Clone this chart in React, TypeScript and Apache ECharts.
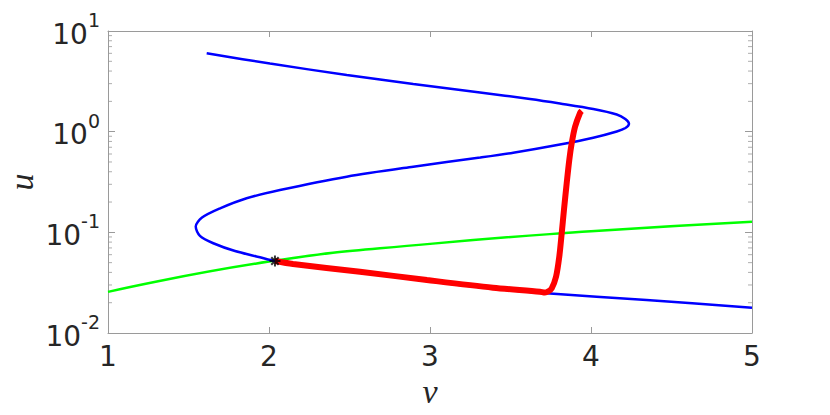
import React, { useEffect, useRef } from "react";
import * as echarts from "echarts";

// x axis (v) tick values
const xTickValues = [1, 2, 3, 4, 5];
// y axis (u) major tick exponents
const yExponents = [-2, -1, 0, 1];
const yMinorMultipliers = [2, 3, 4, 5, 6, 7, 8, 9];

// Blue S-shaped curve (v, u)
const blueV = [1.613, 2.006, 2.483, 2.896, 3.311, 3.621, 3.807, 4.014, 4.16, 4.213, 4.236, 4.214, 4.16, 4.014, 3.807, 3.517, 3.311, 2.896, 2.483, 2.068, 1.861, 1.696, 1.584, 1.545, 1.571, 1.654, 1.789, 1.944, 2.037, 2.565, 2.981, 3.391, 3.724, 4.345, 5.0];
const blueU = [6.0, 4.75, 3.654, 2.975, 2.45, 2.111, 1.904, 1.679, 1.481, 1.336, 1.197, 1.087, 1.004, 0.871, 0.746, 0.618, 0.553, 0.449, 0.357, 0.263, 0.218, 0.173, 0.14, 0.114, 0.0923, 0.0779, 0.0652, 0.0565, 0.0519, 0.0399, 0.0328, 0.0277, 0.0248, 0.0213, 0.0178];

// Green curve
const greenV = [1, 2, 3, 4, 5];
const greenU = [0.0256, 0.0512, 0.0768, 0.1023, 0.1275];

// Red trajectory
const redV = [2.037, 2.149, 2.565, 2.981, 3.391, 3.683, 3.714, 3.733, 3.756, 3.783, 3.803, 3.818, 3.832, 3.849, 3.865, 3.88, 3.901, 3.932, 3.942];
const redU = [0.0519, 0.0485, 0.0406, 0.0336, 0.0282, 0.0257, 0.0252, 0.0258, 0.0278, 0.0363, 0.0573, 0.0977, 0.1667, 0.307, 0.523, 0.766, 1.12, 1.54, 1.61];

// Start point (asterisk)
const startV = [2.037];
const startU = [0.0519];

const AXIS_COLOR = "#9a9a9a";
const TEXT_COLOR = "#262626";
const ASTERISK =
  "path://M4.1,0 h1.8 v10 h-1.8 z M0,4.1 h10 v1.8 h-10 z M1,2.3 L2.3,1 L9,7.7 L7.7,9 z M7.7,1 L9,2.3 L2.3,9 L1,7.7 z";

function zip(a: number[], b: number[]) {
  return a.map((v, i) => [v, b[i]]);
}

export default function App() {
  const ref = useRef<HTMLDivElement>(null);
  useEffect(() => {
    const chart = echarts.init(ref.current!, null, { renderer: "svg" });
    const minorTicks: number[] = [];
    yExponents.slice(0, -1).forEach((e) => {
      yMinorMultipliers.forEach((m) => minorTicks.push(m * Math.pow(10, e)));
    });
    const yMin = Math.pow(10, yExponents[0]);
    const yMax = Math.pow(10, yExponents[yExponents.length - 1]);
    const xMin = xTickValues[0];
    const xMax = xTickValues[xTickValues.length - 1];

    const yAxisBase = {
      type: "log",
      logBase: 10,
      min: yMin,
      max: yMax,
      axisLine: { show: true, lineStyle: { color: AXIS_COLOR, width: 1 } },
      axisTick: { show: true, inside: true, length: 7, lineStyle: { color: AXIS_COLOR } },
      splitLine: { show: false },
      minorTick: { show: false },
    };
    const xAxisBase = {
      type: "value",
      min: xMin,
      max: xMax,
      interval: 1,
      axisLine: { show: true, lineStyle: { color: AXIS_COLOR, width: 1 } },
      axisTick: { show: true, inside: true, length: 6, lineStyle: { color: AXIS_COLOR } },
      splitLine: { show: false },
    };

    chart.setOption({
      animation: false,
      backgroundColor: "#ffffff",
      grid: { left: 108, right: 78, top: 31, bottom: 82, containLabel: false },
      xAxis: [
        {
          ...xAxisBase,
          position: "bottom",
          axisLabel: {
            show: true,
            margin: 9,
            color: TEXT_COLOR,
            fontSize: 28,
            fontFamily: "DejaVu Sans",
          },
        },
        { ...xAxisBase, position: "top", axisLabel: { show: false } },
      ],
      yAxis: [
        {
          ...yAxisBase,
          position: "left",
          axisLabel: {
            show: true,
            margin: 8,
            color: TEXT_COLOR,
            fontFamily: "DejaVu Sans",
            formatter: (val: number) => {
              const e = Math.round(Math.log10(val));
              return `{m|10}{s|${e}}`;
            },
            rich: {
              m: { fontSize: 28, fontFamily: "DejaVu Sans", color: TEXT_COLOR, padding: [6, 0, 0, 0] },
              s: { fontSize: 19, fontFamily: "DejaVu Sans", color: TEXT_COLOR, padding: [0, 0, 22, 0] },
            },
          },
        },
        { ...yAxisBase, position: "right", axisLabel: { show: false } },
      ],
      graphic: [
        {
          type: "text",
          x: 430,
          y: 391,
          style: {
            text: "v",
            fontSize: 34,
            fontStyle: "italic",
            fontFamily: "Liberation Serif",
            fill: TEXT_COLOR,
            textAlign: "center",
            textVerticalAlign: "middle",
          },
        },
        {
          type: "text",
          x: 21,
          y: 182,
          rotation: Math.PI / 2,
          style: {
            text: "u",
            fontSize: 34,
            fontStyle: "italic",
            fontFamily: "Liberation Serif",
            fill: TEXT_COLOR,
            textAlign: "center",
            textVerticalAlign: "middle",
          },
        },
      ],
      series: [
        {
          type: "scatter",
          silent: true,
          symbol: "rect",
          symbolSize: [4, 1],
          symbolOffset: [2, 0],
          itemStyle: { color: AXIS_COLOR },
          data: minorTicks.map((u) => [xMin, u]),
          z: 1,
        },
        {
          type: "scatter",
          silent: true,
          symbol: "rect",
          symbolSize: [4, 1],
          symbolOffset: [-2, 0],
          itemStyle: { color: AXIS_COLOR },
          data: minorTicks.map((u) => [xMax, u]),
          z: 1,
        },
        {
          type: "line",
          data: zip(greenV, greenU),
          smooth: true,
          showSymbol: false,
          lineStyle: { color: "#00ff00", width: 2.5 },
          z: 2,
        },
        {
          type: "line",
          data: zip(blueV, blueU),
          smooth: 0.3,
          showSymbol: false,
          lineStyle: { color: "#0000ff", width: 2.5 },
          z: 3,
        },
        {
          type: "line",
          data: zip(redV, redU),
          smooth: 0.3,
          showSymbol: false,
          lineStyle: { color: "#ff0000", width: 6 },
          z: 4,
        },
        {
          type: "scatter",
          data: zip(startV, startU),
          symbol: ASTERISK,
          symbolSize: 11,
          itemStyle: { color: "#000000" },
          z: 5,
        },
      ],
    });
    return () => chart.dispose();
  }, []);
  return (
    <div
      ref={ref}
      style={{ position: "fixed", left: 0, top: 0, width: 830, height: 415, background: "#fff" }}
    />
  );
}
